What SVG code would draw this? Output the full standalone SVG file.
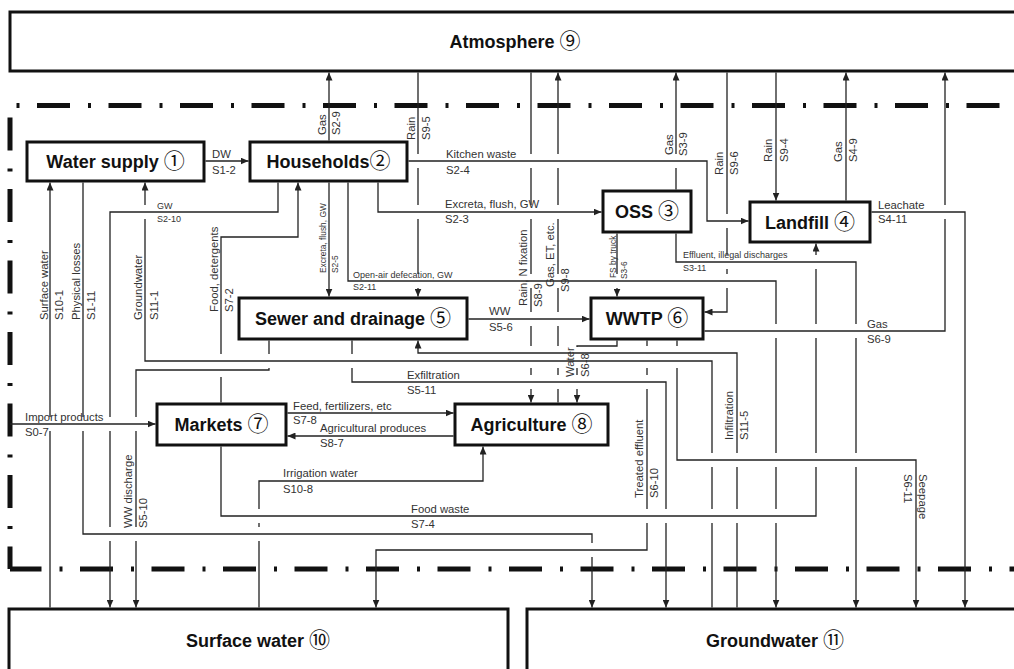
<svg xmlns="http://www.w3.org/2000/svg" width="1014" height="669" viewBox="0 0 1014 669">
<defs>
<style>
.c{fill:none;stroke:#222;stroke-width:1.3}
.a{marker-end:url(#arr)}
.bx{fill:#fff;stroke:#111;stroke-width:3}
.bd{fill:none;stroke:#111;stroke-width:5;stroke-dasharray:3 17.5 33 18}
.n{font-family:"Liberation Sans",Arial,sans-serif;font-weight:bold;font-size:18px;fill:#111;text-anchor:middle}
.d{font-family:"Noto Sans CJK JP","DejaVu Sans",sans-serif;font-weight:normal;font-size:21px}
.l{font-family:"Liberation Sans",Arial,sans-serif;font-size:11.3px;fill:#333}
.s{font-family:"Liberation Sans",Arial,sans-serif;font-size:9px;fill:#333}
.t{font-family:"Liberation Sans",Arial,sans-serif;font-size:8.4px;fill:#333}
</style>
<marker id="arr" viewBox="0 0 8 7" refX="8" refY="3.5" markerWidth="8" markerHeight="7" markerUnits="userSpaceOnUse" orient="auto">
<path d="M0,0 L8,3.5 L0,7 z" fill="#222"/>
</marker>
</defs>
<rect width="1014" height="669" fill="#fff"/>
<g id="boundary">
<path class="bd" d="M10,105.5 H1014" stroke-dashoffset="65"/>
<path class="bd" d="M10,105.5 V569" stroke-dashoffset="8.5"/>
<path class="bd" d="M10,569 H1014" stroke-dashoffset="22"/>
</g>
<g id="connectors">
<path class="c a" d="M205.5,161 H248.5"/>
<path class="c a" d="M329,140.5 V72.5"/>
<path class="c a" d="M418,72.5 V154 M418,168 V205 M418,219 V274 M418,288 V296.5"/>
<path class="c a" d="M408.5,161 H707 V221 H748.5"/>
<path class="c a" d="M378,182.5 V212 H601.5"/>
<path class="c a" d="M329,182.5 V296.5"/>
<path class="c a" d="M348,182.5 V281 H776 V324 M776,338 V453 M776,467 V509 M776,523 V607.5"/>
<path class="c a" d="M278,182.5 V212 H110 V417 M110,431 V527 M110,541 V607.5"/>
<path class="c a" d="M221,402.5 V377 M221,354 V237 H298 V182.5"/>
<path class="c a" d="M712,607.5 V523 M712,509 V467 M712,453 V361 H145 V219 M145,205 V182.5"/>
<path class="c a" d="M50,607.5 V431 M50,417 V182.5"/>
<path class="c a" d="M83,182.5 V417 M83,431 V534 H592 V543 M592,557 V607.5"/>
<path class="c a" d="M10,424 H155.5"/>
<path class="c a" d="M468.5,319 H589.5"/>
<path class="c a" d="M269,340.5 V354 M269,368 V370 H136 V417 M136,431 V527 M136,541 V607.5"/>
<path class="c a" d="M352,340.5 V354 M352,368 V382 H666 V509 M666,523 V607.5"/>
<path class="c a" d="M737,607.5 V523 M737,509 V467 M737,453 V353 H418 V340.5"/>
<path class="c a" d="M617,233.5 V274 M617,288 V296.5"/>
<path class="c a" d="M676,189.5 V168 M676,154 V72.5"/>
<path class="c a" d="M676,233.5 V262 H856 V324 M856,338 V453 M856,467 V607.5"/>
<path class="c a" d="M727,72.5 V214 M727,228 V255 M727,269 V274 M727,288 V312 H704.5"/>
<path class="c a" d="M776,72.5 V200.5"/>
<path class="c a" d="M846,200.5 V72.5"/>
<path class="c a" d="M871.5,212 H965 V607.5"/>
<path class="c a" d="M704.5,331 H945 V219 M945,205 V72.5"/>
<path class="c a" d="M221,446.5 V516 H816 V467 M816,453 V338 M816,324 V269 M816,255 V243.5"/>
<path class="c a" d="M617,340.5 V346 H577 V347 M577,368 V375 M577,389 V402.5"/>
<path class="c a" d="M647,340.5 V346 M647,368 V375 M647,389 V509 M647,523 V550 H376 V607.5"/>
<path class="c a" d="M677,340.5 V346 M677,368 V460 H916 V607.5"/>
<path class="c a" d="M531,72.5 V154 M531,168 V205 M531,219 V274 M531,288 V312 M531,326 V346 M531,368 V375 M531,389 V402.5"/>
<path class="c a" d="M558,402.5 V389 M558,375 V368 M558,346 V326 M558,312 V288 M558,274 V219 M558,205 V168 M558,154 V72.5"/>
<path class="c a" d="M287.5,413 H453.5"/>
<path class="c a" d="M453.5,436 H287.5"/>
<path class="c a" d="M259,607.5 V541 M259,527 V523 M259,509 V481 H483 V446.5"/>
</g>
<g id="node-atmosphere"><rect class="bx" x="10" y="12" width="1014" height="59"/><text class="n" x="515" y="48">Atmosphere <tspan class="d">⑨</tspan></text></g>
<g id="node-water-supply"><rect class="bx" x="27" y="142" width="177" height="39"/><text class="n" x="115.5" y="168">Water supply <tspan class="d">①</tspan></text></g>
<g id="node-households"><rect class="bx" x="250" y="142" width="157" height="39"/><text class="n" x="328.5" y="168">Households<tspan class="d">②</tspan></text></g>
<g id="node-oss"><rect class="bx" x="603" y="191" width="88" height="41"/><text class="n" x="647" y="218">OSS <tspan class="d">③</tspan></text></g>
<g id="node-landfill"><rect class="bx" x="750" y="202" width="120" height="40"/><text class="n" x="810" y="228.5">Landfill <tspan class="d">④</tspan></text></g>
<g id="node-sewer"><rect class="bx" x="239" y="298" width="228" height="41"/><text class="n" x="353" y="325">Sewer and drainage <tspan class="d">⑤</tspan></text></g>
<g id="node-wwtp"><rect class="bx" x="591" y="298" width="112" height="41"/><text class="n" x="647" y="325">WWTP <tspan class="d">⑥</tspan></text></g>
<g id="node-markets"><rect class="bx" x="157" y="404" width="129" height="41"/><text class="n" x="221.5" y="431">Markets <tspan class="d">⑦</tspan></text></g>
<g id="node-agriculture"><rect class="bx" x="455" y="404" width="153" height="41"/><text class="n" x="531.5" y="431">Agriculture <tspan class="d">⑧</tspan></text></g>
<g id="node-surface-water"><rect class="bx" x="9" y="609" width="499" height="80"/><text class="n" x="258" y="646.5">Surface water <tspan class="d">⑩</tspan></text></g>
<g id="node-groundwater"><rect class="bx" x="527" y="609" width="500" height="80"/><text class="n" x="775" y="646.5">Groundwater <tspan class="d">⑪</tspan></text></g>
<g id="labels">
<text class="l" x="212" y="157.5">DW</text><text class="l" x="212" y="173.5">S1-2</text>
<text class="l" x="446" y="158">Kitchen waste</text><text class="l" x="446" y="173.5">S2-4</text>
<text class="l" x="445" y="207.5">Excreta, flush, GW</text><text class="l" x="445" y="222.5">S2-3</text>
<text class="l" x="878" y="208.5">Leachate</text><text class="l" x="878" y="223">S4-11</text>
<text class="l" x="867" y="327.5">Gas</text><text class="l" x="867" y="343">S6-9</text>
<text class="l" x="489" y="315">WW</text><text class="l" x="489" y="330.5">S5-6</text>
<text class="l" x="407" y="379">Exfiltration</text><text class="l" x="407" y="393.5">S5-11</text>
<text class="l" x="293" y="410">Feed, fertilizers, etc</text><text class="l" x="293" y="424">S7-8</text>
<text class="l" x="320" y="431.5">Agricultural produces</text><text class="l" x="320" y="447">S8-7</text>
<text class="l" x="25" y="421">Import products</text><text class="l" x="25" y="436">S0-7</text>
<text class="l" x="283" y="476.5">Irrigation water</text><text class="l" x="283" y="492.5">S10-8</text>
<text class="l" x="411" y="513">Food waste</text><text class="l" x="411" y="527.5">S7-4</text>
<text class="s" x="157" y="209">GW</text><text class="s" x="157" y="221.5">S2-10</text>
<text class="s" x="353" y="278">Open-air defecation, GW</text><text class="s" x="353" y="290">S2-11</text>
<text class="s" x="683" y="258">Effluent, illegal discharges</text><text class="s" x="683" y="270.5">S3-11</text>
<text class="l" transform="translate(325.5,135) rotate(-90)">Gas</text><text class="l" transform="translate(340,135) rotate(-90)">S2-9</text>
<text class="l" transform="translate(414.5,140) rotate(-90)">Rain</text><text class="l" transform="translate(430,140) rotate(-90)">S9-5</text>
<text class="l" transform="translate(673,155) rotate(-90)">Gas</text><text class="l" transform="translate(687,156) rotate(-90)">S3-9</text>
<text class="l" transform="translate(722.5,175) rotate(-90)">Rain</text><text class="l" transform="translate(738,175) rotate(-90)">S9-6</text>
<text class="l" transform="translate(772,162) rotate(-90)">Rain</text><text class="l" transform="translate(788,162) rotate(-90)">S9-4</text>
<text class="l" transform="translate(842,162) rotate(-90)">Gas</text><text class="l" transform="translate(857,162) rotate(-90)">S4-9</text>
<text class="l" transform="translate(47.5,320) rotate(-90)">Surface water</text><text class="l" transform="translate(63,320) rotate(-90)">S10-1</text>
<text class="l" transform="translate(80,320) rotate(-90)">Physical losses</text><text class="l" transform="translate(95,320) rotate(-90)">S1-11</text>
<text class="l" transform="translate(142,320) rotate(-90)">Groundwater</text><text class="l" transform="translate(158,320) rotate(-90)">S11-1</text>
<text class="l" transform="translate(218,312) rotate(-90)">Food, detergents</text><text class="l" transform="translate(233,312) rotate(-90)">S7-2</text>
<text class="t" transform="translate(326,273) rotate(-90)">Excreta, flush, GW</text><text class="t" transform="translate(338,273) rotate(-90)">S2-5</text>
<text class="t" transform="translate(615.5,278) rotate(-90)">FS by truck</text><text class="t" transform="translate(626.5,279) rotate(-90)">S3-6</text>
<text class="l" transform="translate(527,306) rotate(-90)">Rain, N fixation</text><text class="l" transform="translate(542,307) rotate(-90)">S8-9</text>
<text class="l" transform="translate(554,287) rotate(-90)">Gas, ET, etc.</text><text class="l" transform="translate(569,292) rotate(-90)">S9-8</text>
<text class="l" transform="translate(574,377) rotate(-90)">Water</text><text class="l" transform="translate(589,377) rotate(-90)">S6-8</text>
<text class="l" transform="translate(733,440) rotate(-90)">Infiltration</text><text class="l" transform="translate(747.5,440) rotate(-90)">S11-5</text>
<text class="l" transform="translate(643,498) rotate(-90)">Treated effluent</text><text class="l" transform="translate(657.5,498) rotate(-90)">S6-10</text>
<text class="l" transform="translate(132,528) rotate(-90)">WW discharge</text><text class="l" transform="translate(147,528) rotate(-90)">S5-10</text>
<text class="l" transform="translate(903.5,474) rotate(90)">S6-11</text><text class="l" transform="translate(919,474) rotate(90)">Seepage</text>
</g>
</svg>
